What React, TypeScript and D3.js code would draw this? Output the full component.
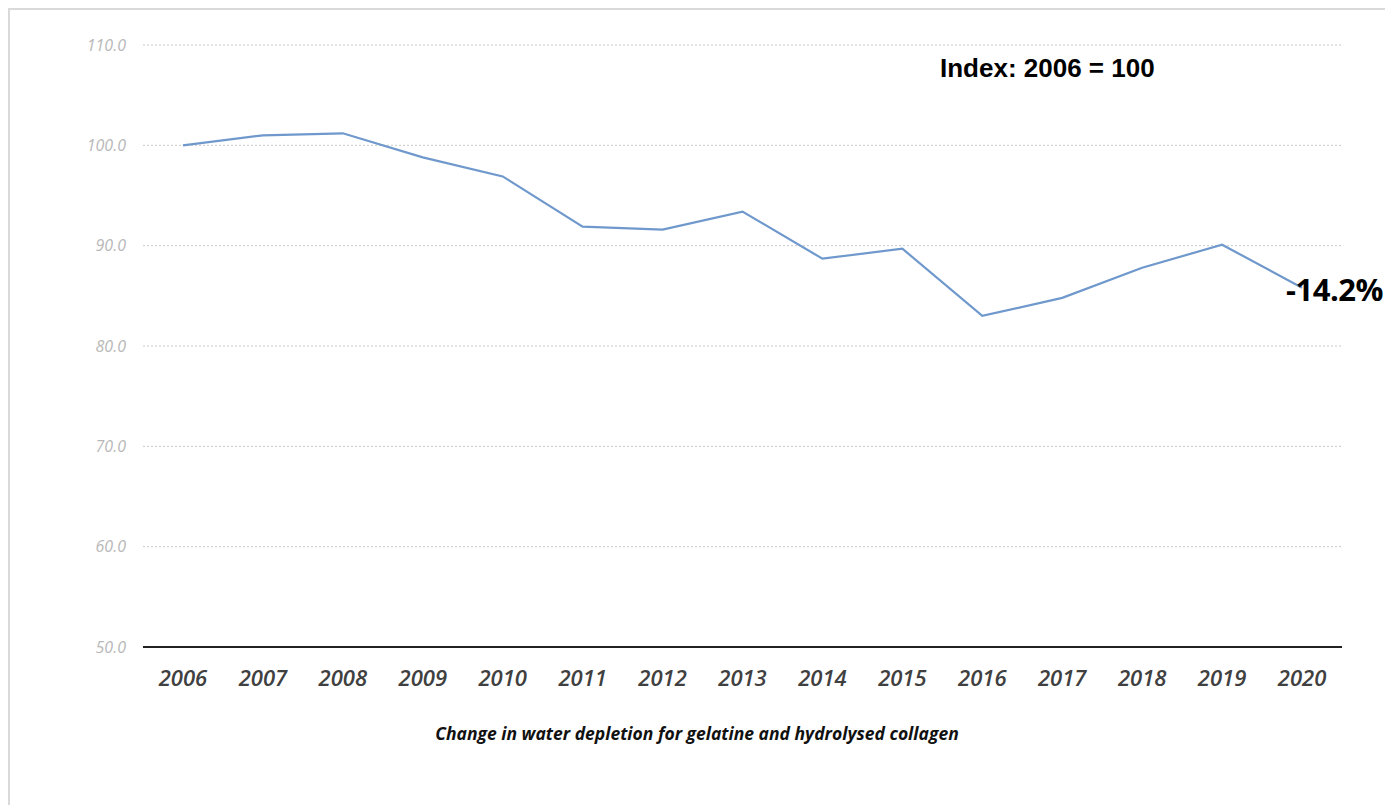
import React, { useRef, useEffect } from "react";
import * as d3 from "d3";

const years = [
  "2006", "2007", "2008", "2009", "2010", "2011", "2012", "2013",
  "2014", "2015", "2016", "2017", "2018", "2019", "2020",
];
const indexValues = [
  100.0, 101.0, 101.2, 98.8, 96.9, 91.9, 91.6, 93.4,
  88.7, 89.7, 83.0, 84.8, 87.8, 90.1, 85.8,
];
const yTicks = [50, 60, 70, 80, 90, 100, 110];
const indexNote = "Index: 2006 = 100";
const changeLabel = "-14.2%";
const caption = "Change in water depletion for gelatine and hydrolysed collagen";

const App: React.FC = () => {
  const svgRef = useRef<SVGSVGElement>(null);

  useEffect(() => {
    if (!svgRef.current) return;
    const svg = d3.select(svgRef.current);
    svg.selectAll("*").remove();

    const width = 1385;
    const height = 805;
    const margin = { top: 45, right: 43, bottom: 158, left: 143 };
    const innerWidth = width - margin.left - margin.right;
    const innerHeight = height - margin.top - margin.bottom;

    // Frame (only top/left edges visible in the crop)
    svg
      .append("rect")
      .attr("x", 9)
      .attr("y", 9)
      .attr("width", width)
      .attr("height", height)
      .attr("fill", "#fff")
      .attr("stroke", "#d9d9d9")
      .attr("stroke-width", 2);

    const g = svg
      .append("g")
      .attr("transform", `translate(${margin.left},${margin.top})`);

    const x = d3.scaleBand<string>().domain(years).range([0, innerWidth]);
    const y = d3.scaleLinear().domain([50, 110]).range([innerHeight, 0]);

    // Dotted grid lines
    g.append("g")
      .selectAll("line")
      .data(yTicks.filter((t) => t !== 50))
      .enter()
      .append("line")
      .attr("x1", 0)
      .attr("x2", innerWidth)
      .attr("y1", (d) => y(d))
      .attr("y2", (d) => y(d))
      .attr("stroke", "#c8c8c8")
      .attr("stroke-width", 1)
      .attr("stroke-dasharray", "2 2");

    // Baseline
    g.append("line")
      .attr("x1", 0)
      .attr("x2", innerWidth)
      .attr("y1", y(50))
      .attr("y2", y(50))
      .attr("stroke", "#222")
      .attr("stroke-width", 2);

    // Y labels
    g.append("g")
      .selectAll("text")
      .data(yTicks)
      .enter()
      .append("text")
      .attr("x", -17)
      .attr("y", (d) => y(d))
      .attr("dy", "0.35em")
      .attr("text-anchor", "end")
      .attr("font-family", "'Open Sans', sans-serif")
      .attr("font-style", "italic")
      .attr("font-size", 16)
      .attr("fill", "#b8b8b8")
      .text((d) => d3.format(".1f")(d));

    // X labels
    g.append("g")
      .selectAll("text")
      .data(years)
      .enter()
      .append("text")
      .attr("x", (d) => (x(d) ?? 0) + x.bandwidth() / 2)
      .attr("y", innerHeight + 39)
      .attr("text-anchor", "middle")
      .attr("font-family", "'Open Sans', sans-serif")
      .attr("font-style", "italic")
      .attr("font-weight", 600)
      .attr("font-size", 22)
      .attr("fill", "#404040")
      .text((d) => d);

    // Line
    const line = d3
      .line<number>()
      .x((_d, i) => (x(years[i]) ?? 0) + x.bandwidth() / 2)
      .y((d) => y(d));

    g.append("path")
      .datum(indexValues)
      .attr("fill", "none")
      .attr("stroke", "#6f98cc")
      .attr("stroke-width", 2.2)
      .attr("d", line);

    // Annotations
    svg
      .append("text")
      .attr("x", 940)
      .attr("y", 77)
      .attr("font-family", "'Liberation Sans', Arial, sans-serif")
      .attr("font-weight", "bold")
      .attr("font-size", 26)
      .attr("fill", "#000")
      .text(indexNote);

    // end label, kept just inside the right edge
    g.append("text")
      .attr("x", innerWidth + margin.right - 2)
      .attr("y", y(indexValues[indexValues.length - 1]) + 13)
      .attr("text-anchor", "end")
      .attr("font-family", "'Open Sans', sans-serif")
      .attr("font-weight", "bold")
      .attr("font-size", 31)
      .attr("letter-spacing", -0.5)
      .attr("fill", "#000")
      .text(changeLabel);

    svg
      .append("text")
      .attr("x", 697)
      .attr("y", 740)
      .attr("text-anchor", "middle")
      .attr("font-family", "'Open Sans', sans-serif")
      .attr("font-style", "italic")
      .attr("font-weight", "bold")
      .attr("font-size", 17.5)
      .attr("fill", "#111")
      .text(caption);
  }, []);

  return (
    <svg
      ref={svgRef}
      width={1385}
      height={805}
      style={{ position: "absolute", left: 0, top: 0, background: "#fff" }}
    ></svg>
  );
};

export default App;
